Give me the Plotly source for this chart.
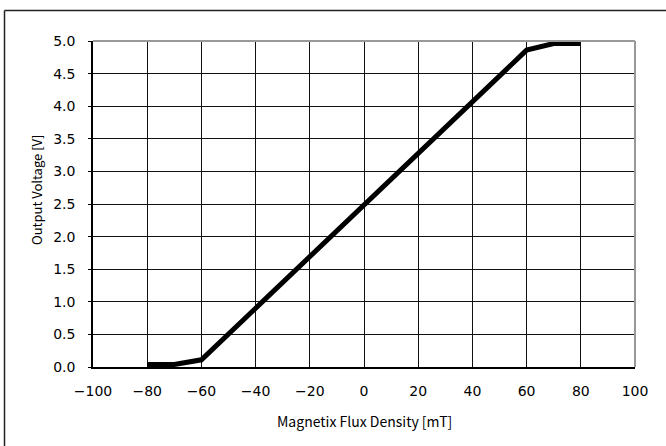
import plotly.graph_objects as go

flux_mT = [-80, -70, -60, 60, 70, 80]
voltage_V = [0.04, 0.04, 0.11, 4.86, 4.96, 4.96]

x_ticks = [-100, -80, -60, -40, -20, 0, 20, 40, 60, 80, 100]
y_ticks = [0.0, 0.5, 1.0, 1.5, 2.0, 2.5, 3.0, 3.5, 4.0, 4.5, 5.0]
y_tick_text = [f"{v:.1f}" for v in y_ticks]
x_tick_text = [str(v).replace("-", "\u2212") for v in x_ticks]
x_title = "Magnetix Flux Density [mT]"
y_title = "Output Voltage [V]"

W, H = 666, 446
ml, mr, mt, mb = 93, 31, 41, 79
pw, ph = W - ml - mr, H - mt - mb

tick_font = "DejaVu Sans, sans-serif"
title_font = "Noto Sans CJK JP, Noto Sans, sans-serif"

fig = go.Figure()
fig.add_trace(go.Scatter(
    x=flux_mT, y=voltage_V, mode="lines",
    line=dict(color="black", width=5),
    showlegend=False, hoverinfo="skip",
))

def px_x(p):
    return (p - ml) / pw

def px_y(p):
    return (H - mb - p) / ph

# outer frame (left and top edges visible, extends beyond canvas)
bx = px_x(4.5)
by = px_y(10.5)
fig.add_shape(type="line", xref="paper", yref="paper",
              x0=bx, x1=bx, y0=-0.5, y1=by,
              line=dict(color="#222222", width=1.5))
fig.add_shape(type="line", xref="paper", yref="paper",
              x0=bx, x1=1.3, y0=by, y1=by,
              line=dict(color="#222222", width=1.5))
# gray top/right plot border
fig.add_shape(type="line", xref="paper", yref="paper",
              x0=0, x1=1, y0=1, y1=1, line=dict(color="#999999", width=2))
fig.add_shape(type="line", xref="paper", yref="paper",
              x0=1, x1=1, y0=0, y1=1, line=dict(color="#999999", width=2))

# axis titles
fig.add_annotation(xref="paper", yref="paper", x=px_x(364), y=px_y(421),
                   text=x_title, showarrow=False,
                   xanchor="center", yanchor="middle",
                   font=dict(family=title_font, size=14, color="black"))
fig.add_annotation(xref="paper", yref="paper", x=px_x(36), y=px_y(190),
                   text=y_title, showarrow=False, textangle=-90,
                   xanchor="center", yanchor="middle",
                   font=dict(family=title_font, size=13, color="black"))

fig.update_layout(
    width=W, height=H,
    margin=dict(l=ml, r=mr, t=mt, b=mb, autoexpand=False),
    paper_bgcolor="white", plot_bgcolor="white",
    font=dict(family=tick_font, size=14, color="black"),
    xaxis=dict(
        range=[-100, 100], tickvals=x_ticks, ticktext=x_tick_text,
        showgrid=True, gridcolor="#111111", gridwidth=1,
        showline=True, linecolor="black", linewidth=1.5,
        ticks="", ticklabelstandoff=10, zeroline=False,
        tickfont=dict(family=tick_font, size=14),
    ),
    yaxis=dict(
        range=[0, 5], tickvals=y_ticks, ticktext=y_tick_text,
        showgrid=True, gridcolor="#111111", gridwidth=1,
        showline=True, linecolor="black", linewidth=1.5,
        ticks="outside", ticklen=3, tickcolor="black",
        ticklabelstandoff=10, zeroline=False,
        tickfont=dict(family=tick_font, size=14),
    ),
)

fig.write_html("out.html",
               config={"displayModeBar": False},
               post_script="document.body.style.margin='0';document.body.style.padding='0';")
